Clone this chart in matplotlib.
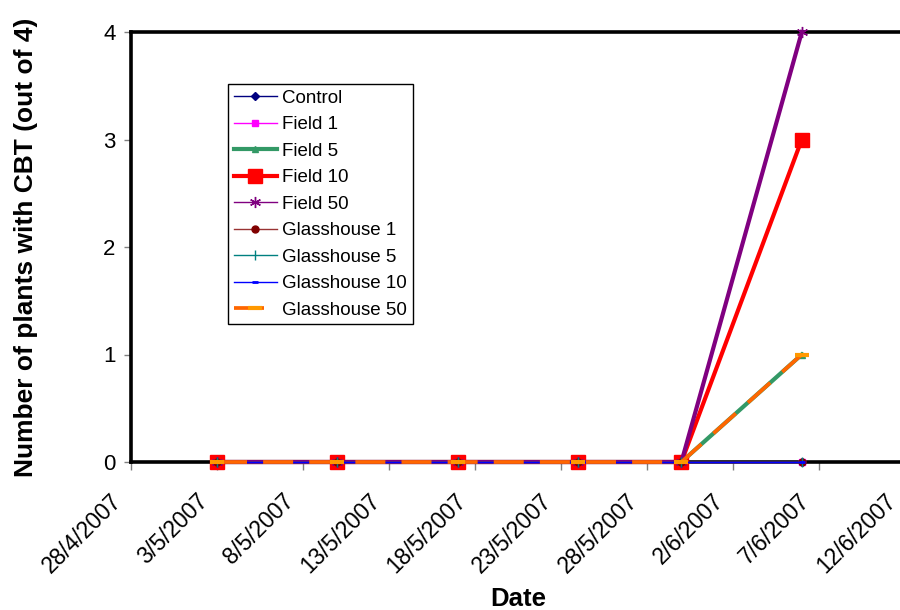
import datetime as dt
import matplotlib
matplotlib.use("Agg")
import matplotlib.pyplot as plt
import matplotlib.dates as mdates
from matplotlib.ticker import FuncFormatter
from matplotlib.transforms import offset_copy
import pandas as pd

plt.rcParams['font.family'] = ['Liberation Sans', 'DejaVu Sans']

dates = pd.to_datetime(['2007-05-03', '2007-05-10', '2007-05-17',
                        '2007-05-24', '2007-05-30', '2007-06-06'])
control = [0, 0, 0, 0, 0, 0]
field_1 = [0, 0, 0, 0, 0, 0]
field_5 = [0, 0, 0, 0, 0, 1]
field_10 = [0, 0, 0, 0, 0, 3]
field_50 = [0, 0, 0, 0, 0, 4]
glass_1 = [0, 0, 0, 0, 0, 0]
glass_5 = [0, 0, 0, 0, 0, 0]
glass_10 = [0, 0, 0, 0, 0, 0]
glass_50 = [0, 0, 0, 0, 0, 1]

series = [
    ('Control', control, dict(color='#000080', lw=1.0, marker='D', ms=4.5)),
    ('Field 1', field_1, dict(color='#FF00FF', lw=1.0, marker='s', ms=4.5)),
    ('Field 5', field_5, dict(color='#339966', lw=3.0, marker='^', ms=5)),
    ('Field 10', field_10, dict(color='#FF0000', lw=3.0, marker='s', ms=9.5)),
    ('Field 50', field_50, dict(color='#800080', lw=3.0, marker=(6, 2, 0), ms=8, mew=1)),
    ('Glasshouse 1', glass_1, dict(color='#993333', mfc='#800000', mec='#800000', lw=1.0, marker='o', ms=5)),
    ('Glasshouse 5', glass_5, dict(color='#008080', lw=1.0, marker='|', ms=7, mew=1)),
    ('Glasshouse 10', glass_10, dict(color='#0000FF', lw=1.0, marker='_', ms=4, mew=2)),
    ('Glasshouse 50', glass_50, dict(color='#FF6600', mec='#FF9900', lw=2.7, marker='_', ms=10, mew=3,
                                     dashes=(8, 4.3))),
]

fig = plt.figure(figsize=(9, 6.1), dpi=100)
ax = fig.add_axes([131 / 900, 148 / 610, 774 / 900, 430 / 610])

for name, vals, style in series:
    ax.plot(dates, vals, label=name, clip_on=False, zorder=3, **style)

ax.set_xlim(dt.datetime(2007, 4, 28), dt.datetime(2007, 6, 12))
ax.set_ylim(0, 4)
ax.set_yticks([0, 1, 2, 3, 4])
ax.set_xticks(pd.date_range('2007-04-28', '2007-06-12', freq='5D'))
ax.xaxis.set_major_formatter(FuncFormatter(
    lambda x, pos: '{0.day}/{0.month}/{0.year}'.format(mdates.num2date(x))))

for side in ('left', 'bottom', 'top'):
    ax.spines[side].set_linewidth(2.6)
    ax.spines[side].set_color('black')
ax.spines['right'].set_visible(False)

ax.tick_params(axis='y', labelsize=16, length=5, width=1, color='#808080', pad=6)
ax.tick_params(axis='x', labelsize=16.5, length=6, width=1, color='#808080', pad=23)
# rotated date labels end just left of their tick
for lbl in ax.get_xticklabels():
    lbl.set_rotation(45)
    lbl.set_ha('right')
    lbl.set_va('baseline')
    lbl.set_rotation_mode('anchor')
    lbl.set_transform(offset_copy(lbl.get_transform(), fig=fig, x=-8, y=0, units='dots'))

ax.set_xlabel('Date', fontsize=18.5, fontweight='bold')
ax.set_ylabel('Number of plants with CBT (out of 4)', fontsize=19, fontweight='bold')
ax.xaxis.set_label_coords(0.5, -0.29)
ax.yaxis.set_label_coords(-0.120, 0.5)

leg = ax.legend(loc='upper left', bbox_to_anchor=(228 / 900, 1 - 84 / 610),
                bbox_transform=fig.transFigure, fontsize=13.5, frameon=True,
                fancybox=False, edgecolor='black', framealpha=1,
                labelspacing=0.5, handlelength=2.3, handletextpad=0.3,
                borderpad=0.3, borderaxespad=0)
leg.get_frame().set_linewidth(1)
leg.get_lines()[4].set_linewidth(1.0)

fig.savefig('out.png', dpi=100)
